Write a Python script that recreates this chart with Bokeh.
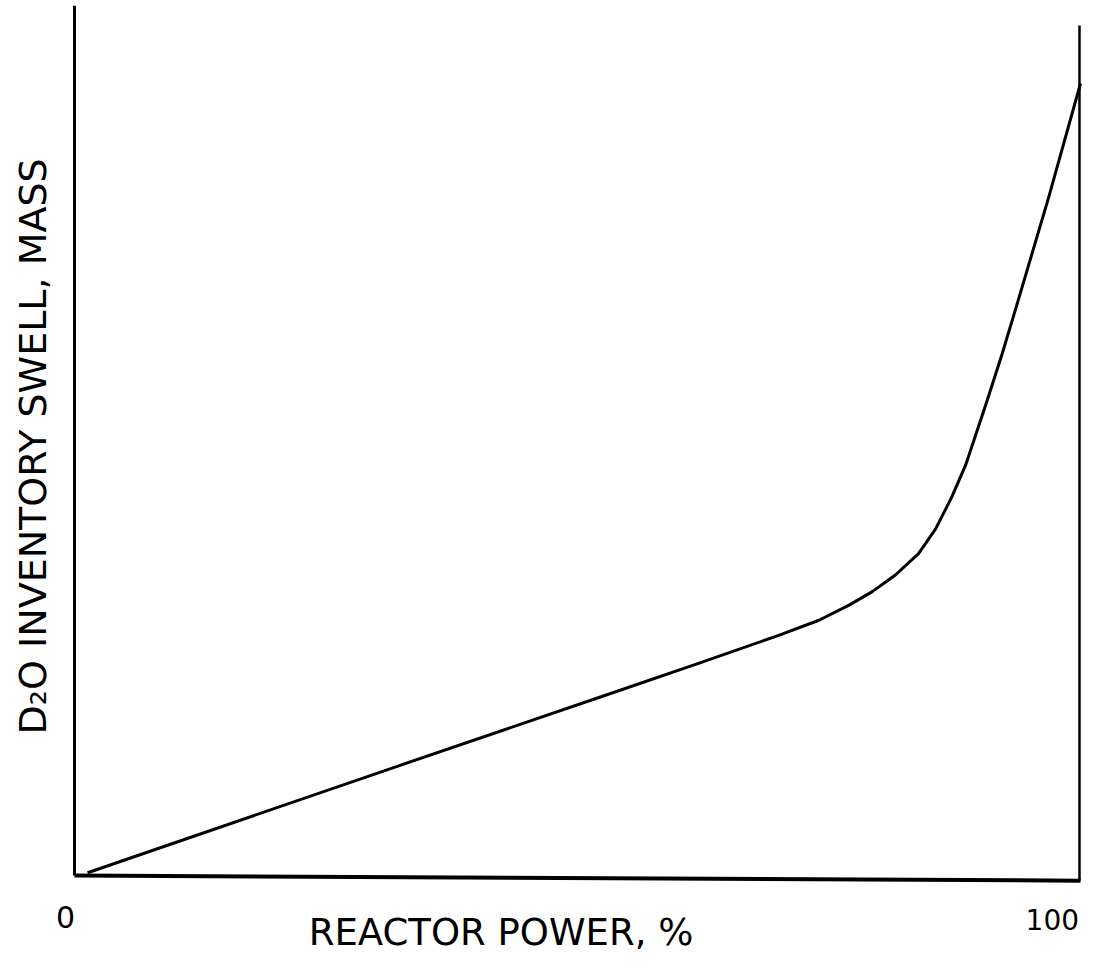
import math
from bokeh.plotting import figure
from bokeh.models import Range1d, ColumnDataSource
from bokeh.core.properties import value
from bokeh.embed import file_html
from bokeh.resources import INLINE

# ---- data (reactor power %, swell in arbitrary units) ----
power = [1.3, 32.3, 52.2, 62.1, 70.0, 74.0, 77.0, 79.3, 81.6, 83.9, 85.6,
         87.2, 88.6, 90.6, 92.2, 93.6, 96.8, 100.0]
swell = [0.6, 14.1, 22.7, 27.0, 30.5, 32.4, 34.3, 36.0, 38.1, 40.8, 43.9,
         47.9, 52.0, 59.6, 65.9, 71.8, 85.5, 100.0]

x_tick_values = [0, 100]
x_tick_labels = ["0", "100"]
x_label = "REACTOR POWER, %"
y_label = "D\u2082O INVENTORY SWELL, MASS"

FONT = value("DejaVu Sans")

p = figure(width=1082, height=954, output_backend="svg", toolbar_location=None,
           x_range=Range1d(-7.356, 100.199), y_range=Range1d(-9.698, 110.453),
           x_axis_type=None, y_axis_type=None,
           min_border=0, min_border_left=0, min_border_right=0,
           min_border_top=0, min_border_bottom=0)
p.grid.visible = False
p.outline_line_color = None
p.background_fill_color = "white"
p.border_fill_color = "white"

# frame lines (hand-drawn style box: left axis, bottom axis, right edge)
p.line(x=[0, 0], y=[0.25, 109.8], line_color="black", line_width=3)
p.line(x=[0, 100], y=[0.25, -0.4], line_color="black", line_width=4)
p.line(x=[99.9, 99.9], y=[-0.4, 107.3], line_color="black", line_width=2.5)

# the curve
src = ColumnDataSource(dict(x=power, y=swell))
p.line(x="x", y="y", source=src, line_color="black", line_width=3,
       line_join="round")

# tick labels
p.text(x=[x_tick_values[0] - 0.9], y=[-5.0], text=[x_tick_labels[0]],
       text_font=FONT, text_font_size="30px", text_align="center",
       text_baseline="middle", text_color="black")
p.text(x=[x_tick_values[1] - 2.8], y=[-5.3], text=[x_tick_labels[1]],
       text_font=FONT, text_font_size="28px", text_align="center",
       text_baseline="middle", text_color="black")

# axis labels
p.text(x=[42.4], y=[-6.9], text=[x_label], text_font=FONT,
       text_font_size="37px", text_align="center", text_baseline="middle",
       text_color="black")
p.text(x=[-4.17], y=[54.3], text=[y_label], text_font=FONT,
       text_font_size="38px", text_align="center", text_baseline="middle",
       angle=math.pi / 2, text_color="black")

open("out.html", "w").write(file_html(p, INLINE))
